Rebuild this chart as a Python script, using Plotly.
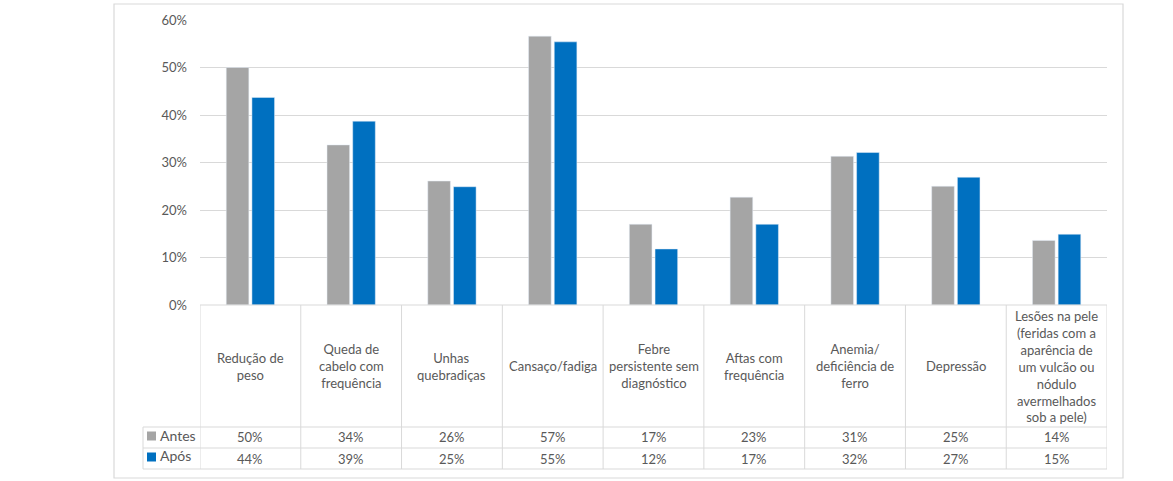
import plotly.graph_objects as go

categories = [
    "Redução de<br>peso",
    "Queda de<br>cabelo com<br>frequência",
    "Unhas<br>quebradiças",
    "Cansaço/fadiga",
    "Febre<br>persistente sem<br>diagnóstico",
    "Aftas com<br>frequência",
    "Anemia/<br>deficiência de<br>ferro",
    "Depressão",
    "Lesões na pele<br>(feridas com a<br>aparência de<br>um vulcão ou<br>nódulo<br>avermelhados<br>sob a pele)",
]
antes = [0.500, 0.337, 0.261, 0.566, 0.170, 0.227, 0.313, 0.250, 0.136]
apos = [0.437, 0.387, 0.249, 0.554, 0.118, 0.170, 0.321, 0.269, 0.149]
antes_lbl = ["50%", "34%", "26%", "57%", "17%", "23%", "31%", "25%", "14%"]
apos_lbl = ["44%", "39%", "25%", "55%", "12%", "17%", "32%", "27%", "15%"]
series_names = ["Antes", "Após"]
yticks = [0, 0.1, 0.2, 0.3, 0.4, 0.5, 0.6]

GRAY = "#A5A5A5"
BLUE = "#0070C0"
LINE = "#D9D9D9"
TXT = "#595959"
FONT = "Lato"

W, H = 1173, 481
L, R, T, B = 200, 1107, 20, 305
pw, ph = R - L, B - T

def px(xp):
    return (xp - L) / pw

def py(yp):
    return (B - yp) / ph

n = len(categories)
xs = list(range(n))

fig = go.Figure()
fig.add_trace(go.Bar(x=xs, y=antes, name=series_names[0], marker_color=GRAY, showlegend=False))
fig.add_trace(go.Bar(x=xs, y=apos, name=series_names[1], marker_color=BLUE, showlegend=False))

shapes = []
annotations = []

# outer frame
shapes.append(dict(type="rect", xref="paper", yref="paper", x0=px(114), x1=px(1123), y0=py(478), y1=py(4),
                   line=dict(color=LINE, width=1.2), layer="below"))

y_cat_bottom = py(427)
y_row1 = py(448)
y_row2 = py(469)

# vertical table lines
for i in range(n + 1):
    shapes.append(dict(type="line", xref="x", yref="paper", x0=i - 0.5, x1=i - 0.5, y0=0, y1=y_row2,
                       line=dict(color=LINE, width=1)))
# left legend cell vertical
shapes.append(dict(type="line", xref="paper", yref="paper", x0=px(143), x1=px(143), y0=y_cat_bottom, y1=y_row2,
                   line=dict(color=LINE, width=1)))
# horizontal lines
for yy in [y_cat_bottom, y_row1, y_row2]:
    shapes.append(dict(type="line", xref="paper", yref="paper", x0=px(143), x1=1, y0=yy, y1=yy,
                       line=dict(color=LINE, width=1)))
shapes.append(dict(type="line", xref="paper", yref="paper", x0=0, x1=1, y0=0, y1=0,
                   line=dict(color=LINE, width=1)))

# category labels and values
for i in range(n):
    annotations.append(dict(x=i, y=py(366), xref="x", yref="paper", text=categories[i], showarrow=False,
                            font=dict(family=FONT, size=13, color=TXT), align="center", yanchor="middle"))
    annotations.append(dict(x=i, y=py(437.5), xref="x", yref="paper", text=antes_lbl[i], showarrow=False,
                            font=dict(family=FONT, size=13, color=TXT), yanchor="middle"))
    annotations.append(dict(x=i, y=py(458.5), xref="x", yref="paper", text=apos_lbl[i], showarrow=False,
                            font=dict(family=FONT, size=13, color=TXT), yanchor="middle"))

# legend keys
for (yc, col, name) in [(436, GRAY, series_names[0]), (457, BLUE, series_names[1])]:
    shapes.append(dict(type="rect", xref="paper", yref="paper", x0=px(147), x1=px(156), y0=py(yc + 4.5), y1=py(yc - 4.5),
                       fillcolor=col, line=dict(width=0)))
    annotations.append(dict(x=px(158), y=py(yc - 1), xref="paper", yref="paper", text=name, showarrow=False,
                            xanchor="left", yanchor="middle", font=dict(family=FONT, size=14, color=TXT)))

fig.update_layout(
    width=W, height=H,
    margin=dict(l=L, r=W - R, t=T, b=H - B, autoexpand=False),
    paper_bgcolor="white", plot_bgcolor="white",
    barmode="group", bargap=0.49, bargroupgap=0.12,
    shapes=shapes, annotations=annotations,
    xaxis=dict(range=[-0.5, n - 0.5], showticklabels=False, showgrid=False, zeroline=False, showline=False, ticks=""),
    yaxis=dict(range=[0, 0.6], tickvals=yticks, tickformat=".0%", showgrid=True, gridcolor=LINE, gridwidth=1,
               zeroline=False, showline=False, ticks="", ticklabelstandoff=12,
               tickfont=dict(family=FONT, size=13, color=TXT)),
    font=dict(family=FONT),
)

fig.write_html("out.html", config={"displayModeBar": False},
               post_script="document.body.style.margin='0';")
